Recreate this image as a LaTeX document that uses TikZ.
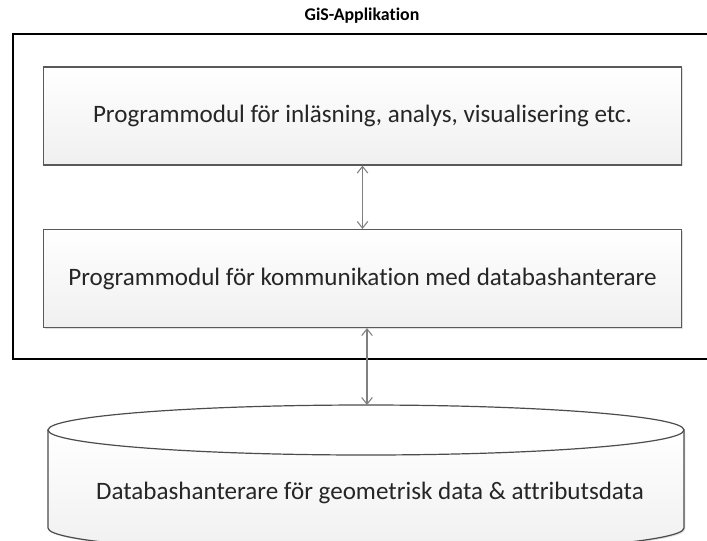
\documentclass[tikz,border=0pt]{standalone}
\usepackage{fontspec}
\setmainfont[Ligatures={NoCommon}]{Carlito}
\usetikzlibrary{arrows.meta,shadows}

\begin{document}
\begin{tikzpicture}[x=0.75pt,y=-0.75pt,>={Straight Barb[length=5pt,width=8pt]},
  module node/.style={draw=black!65,line width=0.9pt,top color=white,bottom color=black!6,
    drop shadow={shadow xshift=1pt,shadow yshift=-1pt,opacity=0.25},text=black!85,
    minimum width=479pt,minimum height=73.5pt,inner sep=0pt,font=\fontsize{18.8}{22}\selectfont},
  title node/.style={font=\bfseries\fontsize{13.4}{16}\selectfont},
  link/.style={<->,draw=black!50,line width=0.8pt}]
  \useasboundingbox (0,0) rectangle (707,540);
  \node[title node]  (title) at (362,16)    {GiS-Applikation};
  \draw[line width=2.2pt] (13,34) rectangle (712,359);
  \node[module node] (mod1)  at (362.5,116) {Programmodul för inläsning, analys, visualisering etc.};
  \node[module node] (mod2)  at (362.5,278.5) {Programmodul för kommunikation med databashanterare};
  % databashanterare
  \path[draw=black!70,line width=0.9pt,top color=white,bottom color=black!6,
    drop shadow={shadow xshift=1pt,shadow yshift=-1pt,opacity=0.25}]
    (48,430) -- (48,528) arc[start angle=180,end angle=360,x radius=238.5pt,y radius=18.75pt]
    -- (684,430) -- cycle;
  \draw[draw=black!70,line width=0.9pt,fill=white] (366,430) ellipse [x radius=238.5pt,y radius=18.75pt];
  \coordinate (dbtop) at (367,405);
  \node[text=black!85,font=\fontsize{18.8}{22}\selectfont] (db) at (370,493) {Databashanterare för geometrisk data \& attributsdata};
  \draw[link] (mod1.south) -- (mod2.north);
  \draw[link] (mod2.south -| dbtop) -- (dbtop);
\end{tikzpicture}
\end{document}
